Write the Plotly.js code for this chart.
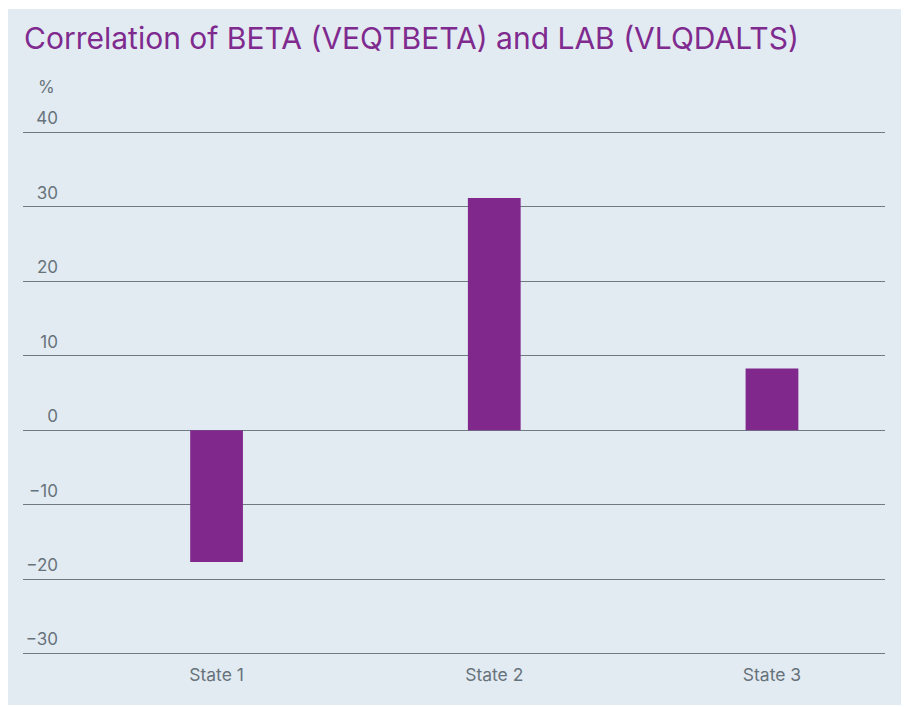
<!DOCTYPE html>
<html>
<head>
<meta charset="utf-8">
<script src="https://cdn.plot.ly/plotly-3.0.1.min.js"></script>
<style>
  html, body { margin: 0; padding: 0; background: #ffffff; }
  #chart { position: absolute; left: 8px; top: 9px; width: 893px; height: 696px; }
</style>
</head>
<body>
<div id="chart"></div>
<script>
const categories = ['State 1', 'State 2', 'State 3'];
const correlation = [-17.7, 31.2, 8.3];
const yTickValues = [-30, -20, -10, 0, 10, 20, 30, 40];
const yTickLabels = ['\u221230', '\u221220', '\u221210', '0', '10', '20', '30', '40'];

const fontFamily = 'Inter, "Noto Sans", Roboto, sans-serif';
const labelColor = '#67737b';

const trace = {
  type: 'bar',
  x: categories,
  y: correlation,
  marker: { color: '#80288c' },
  width: 0.19,
  hoverinfo: 'x+y'
};

const layout = {
  width: 893,
  height: 696,
  paper_bgcolor: '#e3ebf2',
  plot_bgcolor: '#e3ebf2',
  margin: { l: 15, r: 16, t: 122, b: 50 },
  showlegend: false,
  title: {
    text: 'Correlation of BETA (VEQTBETA) and LAB (VLQDALTS)',
    font: { family: fontFamily, size: 30, color: '#7f2a8e' },
    xref: 'container', x: 16 / 893, xanchor: 'left',
    yref: 'container', y: 1 - 29 / 696, yanchor: 'middle'
  },
  xaxis: {
    type: 'category',
    range: [-0.697, 2.407],
    showgrid: false,
    zeroline: false,
    showline: false,
    ticks: '',
    tickfont: { family: fontFamily, size: 17.5, color: labelColor },
    ticklabelstandoff: 7
  },
  yaxis: {
    range: [-30.2, 40.2],
    tickvals: yTickValues,
    ticktext: yTickLabels,
    showgrid: true,
    gridcolor: '#6e7b83',
    gridwidth: 1,
    zeroline: true,
    zerolinecolor: '#6e7b83',
    zerolinewidth: 1,
    showline: false,
    ticks: '',
    tickfont: { family: fontFamily, size: 17, color: labelColor },
    ticklabelposition: 'outside',
    ticklabelstandoff: -36,
    ticklabelshift: -14
  },
  annotations: [{
    text: '%',
    xref: 'paper', x: 34 / 862, xanchor: 'right',
    yref: 'paper', y: 1, yanchor: 'middle', yshift: 44,
    showarrow: false,
    font: { family: fontFamily, size: 17, color: labelColor }
  }]
};

Plotly.newPlot('chart', [trace], layout, { displayModeBar: false, staticPlot: true });
</script>
</body>
</html>
